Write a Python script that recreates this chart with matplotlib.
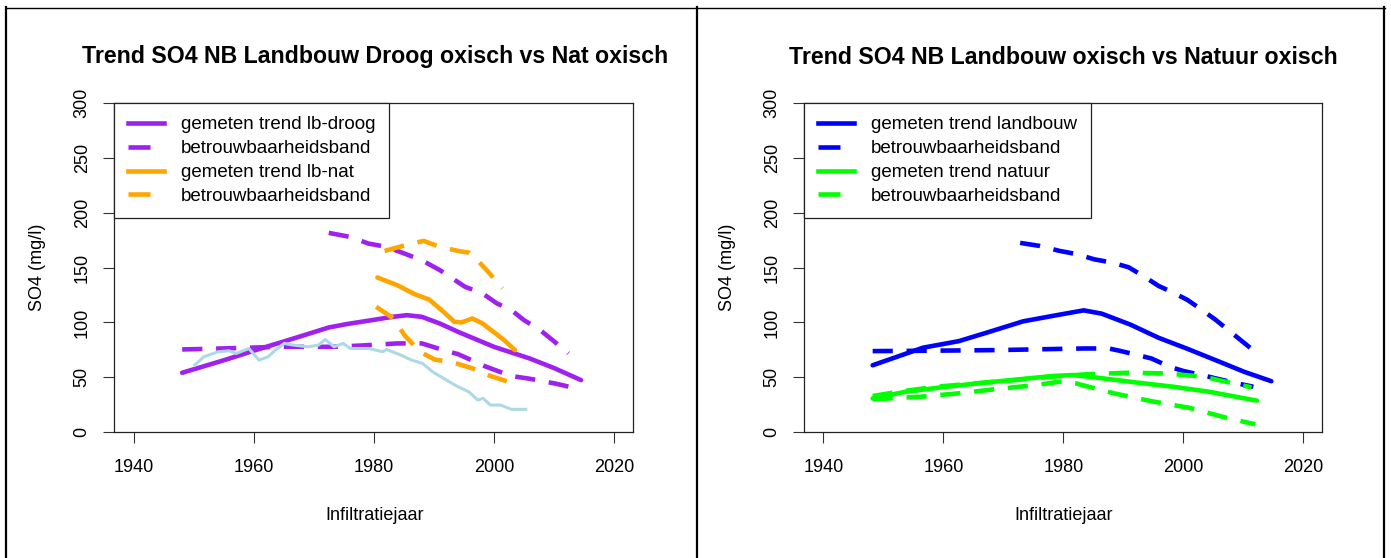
import matplotlib
matplotlib.use("Agg")
import matplotlib.pyplot as plt
from matplotlib.lines import Line2D

plt.rcParams['font.family'] = ['Liberation Sans', 'DejaVu Sans']

# ---------------- data: left panel ----------------
droog_trend_x = [1948.1, 1955.0, 1961.2, 1967.0, 1972.5, 1975.5, 1979.7, 1983.0, 1985.5, 1988.0, 1991.0, 1994.0, 2000.0, 2005.9, 2010.0, 2014.5]
droog_trend_y = [54.2, 65.5, 76.3, 86.0, 95.4, 98.5, 102.1, 105.0, 106.6, 105.1, 99.0, 91.5, 77.8, 67.3, 58.5, 47.5]
droog_up_x = [1972.5, 1976.1, 1979.1, 1982.1, 1985.1, 1988.0, 1991.0, 1993.1, 1995.2, 1998.1, 2000.5, 2002.9, 2005.0, 2007.7, 2010.1, 2012.4]
droog_up_y = [181.5, 177.8, 171.8, 168.8, 162.7, 156.6, 147.6, 140.0, 132.4, 126.4, 117.3, 111.2, 102.1, 93.0, 82.4, 71.8]
droog_lo_x = [1948.1, 1954.7, 1964.2, 1973.1, 1978.0, 1983.9, 1988.0, 1991.6, 1994.0, 1998.7, 2002.9, 2005.9, 2010.1, 2011.8, 2014.5]
droog_lo_y = [75.4, 76.3, 77.8, 77.8, 79.0, 80.9, 80.9, 74.8, 71.2, 59.7, 51.2, 48.8, 44.5, 42.4, 38.5]

nat_trend_x = [1980.6, 1983.9, 1986.8, 1989.2, 1991.6, 1993.4, 1994.6, 1996.4, 1998.1, 1999.9, 2001.7, 2003.5]
nat_trend_y = [140.9, 133.9, 125.7, 120.9, 109.7, 100.6, 100.0, 103.6, 99.1, 91.5, 83.9, 74.8]
nat_up_x = [1981.8, 1985.3, 1988.3, 1991.0, 1994.3, 1995.8, 1997.0, 1999.3, 2001.4]
nat_up_y = [165.1, 170.3, 174.2, 168.8, 164.8, 163.6, 158.2, 144.5, 130.9]
nat_lo_x = [1980.4, 1983.3, 1985.1, 1987.7, 1990.1, 1993.4, 1996.4, 1999.3, 2002.3, 2003.5]
nat_lo_y = [114.2, 103.6, 88.4, 73.3, 66.3, 63.3, 58.2, 51.5, 46.1, 42.2]

ref_x = [1950.2, 1951.7, 1954.1, 1955.9, 1957.1, 1959.2, 1960.9, 1962.4, 1963.6, 1965.1, 1966.6, 1969.0,
         1970.8, 1971.9, 1973.4, 1974.9, 1976.1, 1979.1, 1981.5, 1982.1, 1984.5, 1986.3, 1988.1, 1989.8,
         1991.6, 1994.0, 1995.8, 1997.3, 1998.2, 1999.4, 2001.1, 2002.9, 2005.3]
ref_y = [61.2, 68.7, 73.3, 74.2, 71.8, 76.3, 65.7, 68.7, 74.8, 80.9, 79.4, 77.8,
         79.4, 84.5, 77.8, 80.9, 76.3, 76.3, 73.3, 75.4, 70.3, 65.7, 62.7, 55.1,
         49.1, 41.5, 36.9, 29.4, 30.9, 24.8, 24.8, 20.9, 20.9]

# ---------------- data: right panel ----------------
lb_trend_x = [1948.2, 1956.6, 1962.6, 1967.4, 1973.3, 1979.3, 1983.4, 1986.4, 1991.2, 1995.9, 2000.7, 2006.6, 2010.2, 2014.7]
lb_trend_y = [61.0, 77.0, 83.0, 91.0, 101.0, 107.0, 111.0, 108.0, 98.0, 86.0, 76.0, 63.0, 55.0, 46.5]
lb_up_x = [1972.8, 1976.0, 1979.3, 1982.2, 1985.2, 1988.2, 1990.9, 1993.5, 1995.9, 1998.3, 2000.7, 2003.1, 2005.4, 2007.8, 2010.2, 2012.6]
lb_up_y = [172.4, 169.7, 165.2, 162.2, 157.4, 154.4, 150.2, 141.7, 133.2, 127.2, 120.5, 111.5, 102.4, 91.8, 81.2, 70.6]
lb_lo_x = [1948.2, 1956.6, 1968.6, 1983.4, 1987.6, 1989.4, 1992.4, 1994.7, 1997.7, 2000.1, 2003.1, 2005.4, 2009.0, 2011.7]
lb_lo_y = [73.9, 74.2, 74.8, 76.3, 76.3, 74.2, 70.3, 67.2, 59.7, 55.7, 52.1, 49.1, 44.5, 41.5]

nt_trend_x = [1948.2, 1953.7, 1959.6, 1965.6, 1971.5, 1978.1, 1981.6, 1985.2, 1992.4, 1998.3, 2004.3, 2012.3]
nt_trend_y = [30.9, 36.9, 40.9, 44.5, 47.6, 51.2, 52.1, 50.0, 45.2, 41.5, 36.9, 28.8]
nt_up_x = [1948.2, 1952.5, 1958.9, 1965.3, 1972.0, 1978.2, 1984.4, 1990.9, 1997.1, 2003.4, 2009.6, 2011.4]
nt_up_y = [33.0, 36.9, 41.5, 44.5, 47.6, 50.6, 53.0, 54.2, 53.6, 50.6, 43.0, 40.9]
nt_lo_x = [1948.2, 1956.2, 1962.4, 1968.9, 1975.4, 1979.3, 1982.1, 1988.5, 1994.7, 2001.0, 2007.2, 2012.0]
nt_lo_y = [30.0, 32.4, 35.4, 39.4, 43.0, 46.0, 44.5, 35.4, 28.3, 22.3, 13.2, 7.3]

x_ticks = [1940, 1960, 1980, 2000, 2020]
y_ticks = [0, 50, 100, 150, 200, 250, 300]

titles = ["Trend SO4 NB Landbouw Droog oxisch vs Nat oxisch",
          "Trend SO4 NB Landbouw oxisch vs Natuur oxisch"]
xlabel = "Infiltratiejaar"
ylabel = "SO4 (mg/l)"
leg_left = ["gemeten trend lb-droog", "betrouwbaarheidsband", "gemeten trend lb-nat", "betrouwbaarheidsband"]
leg_right = ["gemeten trend landbouw", "betrouwbaarheidsband", "gemeten trend natuur", "betrouwbaarheidsband"]

# ---------------- figure ----------------
W, H = 1391, 558
fig = plt.figure(figsize=(W / 100, H / 100), dpi=100)


def rect(x0, x1, y0, y1):
    return [x0 / W, 1 - y1 / H, (x1 - x0) / W, (y1 - y0) / H]


FS = 13
LFS = 13.5
LW = 3.3
DASH = (0, (4.4, 3.0))
PURPLE, ORANGE, LBLUE, BLUE, GREEN = "#A020F0", "#FFA500", "#ADD8E6", "#0000FF", "#00FF00"


def style_axes(ax):
    ax.set_xlim(1936.8, 2023.2)
    ax.set_ylim(0, 300)
    ax.set_xticks(x_ticks)
    ax.set_yticks(y_ticks)
    ax.tick_params(axis='both', direction='out', length=8, width=0.8, labelsize=FS, color='#333333')
    ax.tick_params(axis='x', pad=11)
    ax.tick_params(axis='y', pad=9)
    for lab in ax.get_yticklabels():
        lab.set_rotation(90)
        lab.set_va('center')
        lab.set_ha('right')
    for s in ax.spines.values():
        s.set_linewidth(0.9)
        s.set_color('#222222')


def add_legend(ax, labels, c1, c2):
    handles = [Line2D([], [], color=c1, lw=LW),
               Line2D([], [], color=c1, lw=LW, linestyle=(0, (4.8, 10))),
               Line2D([], [], color=c2, lw=LW),
               Line2D([], [], color=c2, lw=LW, linestyle=(0, (4.8, 10)))]
    leg = ax.legend(handles, labels, loc='upper left', bbox_to_anchor=(0, 1), borderaxespad=0,
                    fontsize=LFS, frameon=True, fancybox=False, edgecolor='#222222',
                    handlelength=1.95, handletextpad=0.9, labelspacing=0.36, borderpad=0.72)
    leg.get_frame().set_linewidth(0.9)
    leg.get_frame().set_alpha(1)


# left panel
ax1 = fig.add_axes(rect(114.3, 633.3, 102.7, 432.3))
style_axes(ax1)
ax1.plot(droog_trend_x, droog_trend_y, color=PURPLE, lw=LW, solid_capstyle='round', solid_joinstyle='round')
ax1.plot(droog_up_x, droog_up_y, color=PURPLE, lw=LW, linestyle=DASH)
ax1.plot(droog_lo_x, droog_lo_y, color=PURPLE, lw=LW, linestyle=DASH)
ax1.plot(nat_trend_x, nat_trend_y, color=ORANGE, lw=LW, solid_capstyle='round', solid_joinstyle='round')
ax1.plot(nat_up_x, nat_up_y, color=ORANGE, lw=LW, linestyle=DASH)
ax1.plot(nat_lo_x, nat_lo_y, color=ORANGE, lw=LW, linestyle=DASH)
ax1.plot(ref_x, ref_y, color=LBLUE, lw=2.2, solid_joinstyle='round')
add_legend(ax1, leg_left, PURPLE, ORANGE)

# right panel
ax2 = fig.add_axes(rect(804.3, 1322.3, 102.7, 432.3))
style_axes(ax2)
ax2.plot(lb_trend_x, lb_trend_y, color=BLUE, lw=LW, solid_capstyle='round', solid_joinstyle='round')
ax2.plot(lb_up_x, lb_up_y, color=BLUE, lw=LW, linestyle=DASH)
ax2.plot(lb_lo_x, lb_lo_y, color=BLUE, lw=LW, linestyle=DASH)
ax2.plot(nt_trend_x, nt_trend_y, color=GREEN, lw=LW, solid_capstyle='round', solid_joinstyle='round')
ax2.plot(nt_up_x, nt_up_y, color=GREEN, lw=LW, linestyle=DASH)
ax2.plot(nt_lo_x, nt_lo_y, color=GREEN, lw=LW, linestyle=DASH)
add_legend(ax2, leg_right, BLUE, GREEN)

# titles and axis labels
for cx, t in zip([375, 1063.5], titles):
    fig.text(cx / W, 1 - 57 / H, t, ha='center', va='center', fontsize=16.7, fontweight='bold')
    fig.text(cx / W, 1 - 515 / H, xlabel, ha='center', va='center', fontsize=FS)
for lx in [37.5, 727.5]:
    fig.text(lx / W, 1 - 267.5 / H, ylabel, ha='center', va='center', rotation=90, fontsize=FS)

# outer frame of the screenshot
frame_kw = dict(transform=fig.transFigure, color='black')
fig.add_artist(Line2D([6 / W, 1385 / W], [1 - 7.5 / H, 1 - 7.5 / H], lw=1.0, **frame_kw))
for fx in [6, 697, 1384]:
    fig.add_artist(Line2D([fx / W, fx / W], [1 - 7 / H, 0], lw=1.6, **frame_kw))

fig.savefig("out.png", dpi=100)
